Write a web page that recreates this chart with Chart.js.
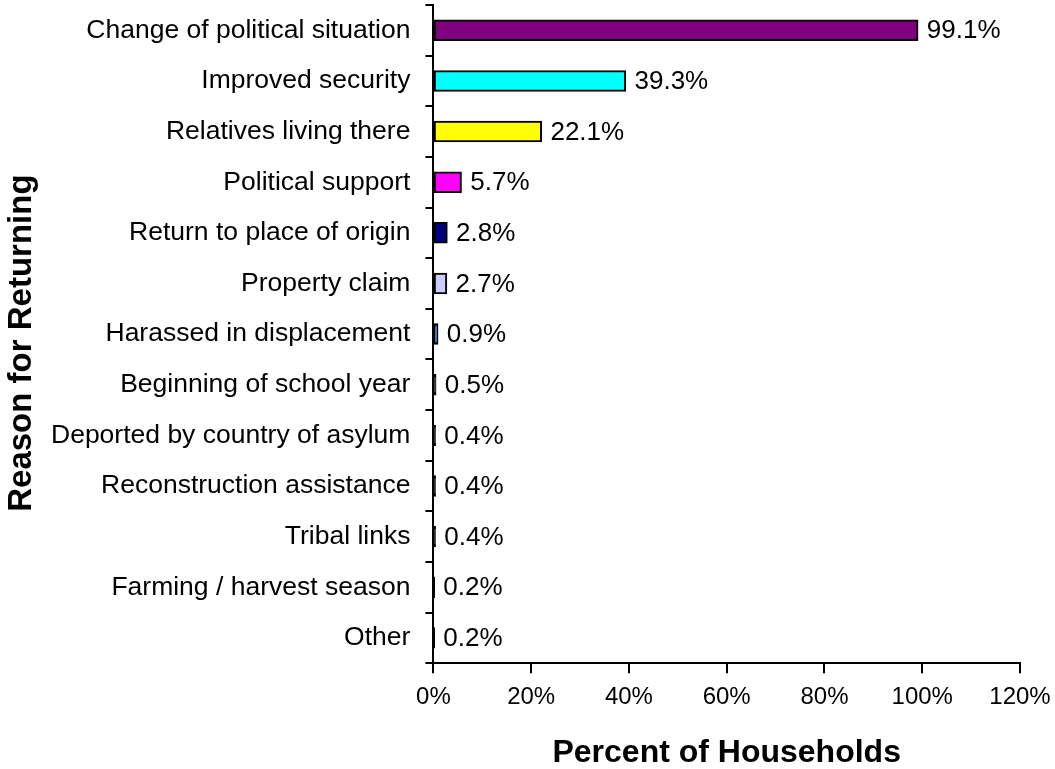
<!DOCTYPE html>
<html>
<head>
<meta charset="utf-8">
<script src="https://cdn.jsdelivr.net/npm/chart.js@4"></script>
<style>
  html, body { margin: 0; padding: 0; background: #fff; }
  #wrap { width: 1055px; height: 769px; }
</style>
</head>
<body>
<div id="wrap"><canvas id="reasons"></canvas></div>
<script>
var reasons = ["Change of political situation", "Improved security", "Relatives living there",
  "Political support", "Return to place of origin", "Property claim", "Harassed in displacement",
  "Beginning of school year", "Deported by country of asylum", "Reconstruction assistance",
  "Tribal links", "Farming / harvest season", "Other"];
var percents = [99.1, 39.3, 22.1, 5.7, 2.8, 2.7, 0.9, 0.5, 0.4, 0.4, 0.4, 0.2, 0.2];
var barColors = ["#800080", "#00FFFF", "#FFFF00", "#FF00FF", "#000080", "#CCCCFF", "#0066CC",
  "#000000", "#000000", "#000000", "#000000", "#000000", "#000000"];
var xTicks = [0, 20, 40, 60, 80, 100, 120];

var fontFam = "'Liberation Sans', Arial, sans-serif";

var valueLabels = {
  id: 'valueLabels',
  afterDatasetsDraw: function(chart) {
    var c = chart.ctx;
    var meta = chart.getDatasetMeta(0);
    c.save();
    c.font = "26px " + fontFam;
    c.fillStyle = "#000";
    c.textAlign = "left";
    c.textBaseline = "middle";
    meta.data.forEach(function(bar, i) {
      c.fillText(percents[i].toFixed(1) + "%", bar.x + 9, bar.y + 1);
    });
    // y axis title, drawn a little below the plot middle like the original
    c.font = "bold 33px " + fontFam;
    c.textAlign = "center";
    c.translate(22, (chart.chartArea.top + chart.chartArea.bottom) / 2 + 9);
    c.rotate(-Math.PI / 2);
    c.fillText("Reason for Returning", 0, 0);
    c.restore();
  }
};

window.onload = function() {
  var ctx = document.getElementById("reasons");
  new Chart(ctx, {
    type: 'bar',
    data: {
      labels: reasons,
      datasets: [{
        data: percents,
        backgroundColor: barColors,
        borderColor: "#000",
        borderWidth: 2,
        borderSkipped: false,
        inflateAmount: 0.6,
        barPercentage: 0.4,
        categoryPercentage: 1.0
      }]
    },
    plugins: [valueLabels],
    options: {
      indexAxis: 'y',
      responsive: true,
      maintainAspectRatio: false,
      animation: false,
      layout: { padding: { top: 5, right: 35, bottom: 0, left: 36 } },
      plugins: { legend: { display: false }, tooltip: { enabled: false } },
      scales: {
        x: {
          min: 0, max: 120,
          afterBuildTicks: function(axis) { axis.ticks = xTicks.map(function(v) { return { value: v }; }); },
          afterFit: function(axis) { axis.paddingRight = 0; axis.paddingLeft = 0; },
          ticks: {
            color: "#000", font: { family: fontFam, size: 24 }, padding: 10,
            maxRotation: 0,
            callback: function(v) { return v + "%"; }
          },
          grid: { drawOnChartArea: false, color: "#000", tickLength: 10, lineWidth: 2 },
          border: { color: "#000", width: 2 },
          title: { display: true, text: "Percent of Households", color: "#000",
                   font: { family: fontFam, size: 32, weight: 'bold', lineHeight: 1.0 },
                   padding: { top: 15, bottom: 0 } }
        },
        y: {
          offset: true,
          afterFit: function(axis) { axis.paddingTop = 0; axis.paddingBottom = 0; },
          ticks: { color: "#000", font: { family: fontFam, size: 26.5 }, padding: 15, autoSkip: false },
          grid: { drawOnChartArea: false, offset: true, color: "#000", tickLength: 8, lineWidth: 2 },
          border: { color: "#000", width: 2 }
        }
      }
    }
  });
};
</script>
</body>
</html>
